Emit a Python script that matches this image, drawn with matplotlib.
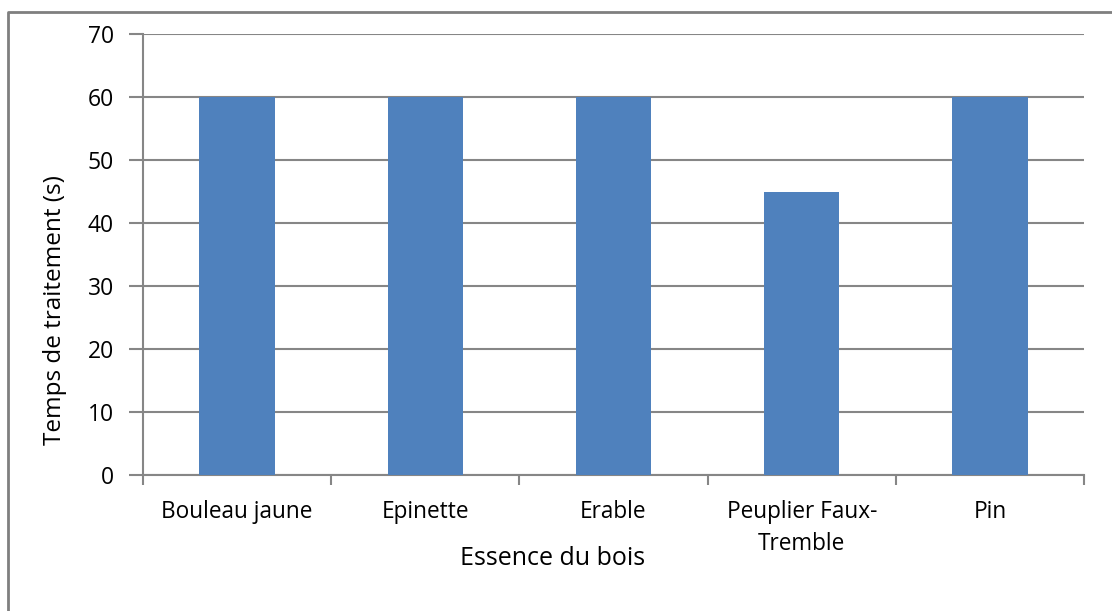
import matplotlib.pyplot as plt
import matplotlib as mpl
from matplotlib.lines import Line2D
import numpy as np

mpl.rcParams['font.family'] = ['Open Sans', 'DejaVu Sans']

# donnees
essences = ['Bouleau jaune', 'Epinette', 'Erable', 'Peuplier Faux-\nTremble', 'Pin']
temps = [60, 60, 60, 45, 60]
yticks = [0, 10, 20, 30, 40, 50, 60, 70]

gris = '#868686'
bleu = '#4F81BD'

fig = plt.figure(figsize=(11.12, 6.11), dpi=100)
ax = fig.add_axes([143/1112, 1-475/611, (1084-143)/1112, (475-34)/611])

x = np.arange(len(essences))
ax.bar(x, temps, width=0.4, color=bleu, zorder=3)

ax.set_xlim(-0.5, len(essences) - 0.5)
ax.set_ylim(0, 70)
ax.set_yticks(yticks)
ax.set_yticklabels([str(v) for v in yticks])
ax.yaxis.grid(True, color=gris, linewidth=1.5, zorder=0)

# ticks x: labels au centre, traits entre les categories
ax.set_xticks(x)
ax.set_xticklabels(essences, linespacing=1.45)
ax.set_xticks(np.arange(-0.5, len(essences)), minor=True)
ax.tick_params(axis='x', which='major', length=0, pad=18, labelsize=16.3)
ax.tick_params(axis='x', which='minor', length=7, width=1.5, color=gris)
ax.tick_params(axis='y', length=10, width=1.5, color=gris, pad=11, labelsize=16.5)

for s in ['top', 'right']:
    ax.spines[s].set_visible(False)
for s in ['left', 'bottom']:
    ax.spines[s].set_color(gris)
    ax.spines[s].set_linewidth(1.5)

ax.set_xlabel('Essence du bois', fontsize=18)
ax.set_ylabel('Temps de traitement (s)', fontsize=17.5)
ax.xaxis.set_label_coords(0.435, -0.162)
ax.yaxis.set_label_coords(-0.081, 0.375)

# cadre exterieur (gauche + haut)
fig.add_artist(Line2D([8/1112, 8/1112, 1.0], [0.0, 1-11.5/611, 1-11.5/611],
                      transform=fig.transFigure, color='#7f7f7f', linewidth=2))

plt.savefig('out.png', dpi=100)
